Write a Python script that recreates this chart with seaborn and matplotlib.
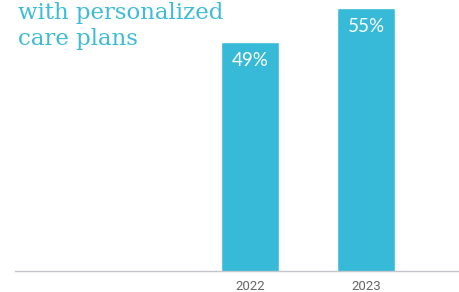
"""Bar chart: share of patients with personalized care plans, 2022 vs 2023."""

import matplotlib
matplotlib.use("Agg")
import matplotlib.pyplot as plt
import pandas as pd
import seaborn as sns

# ── Data ──────────────────────────────────────────────────────────────────
years = ["2022", "2023"]
shares = [49, 55]
bar_labels = ["49%", "55%"]
title_lines = ["with personalized", "care plans"]

BAR_COLOR = "#36BAD8"
TITLE_COLOR = "#3DBCD8"

sns.set_theme(style="white")
plt.rcParams["font.family"] = ["Roboto", "DejaVu Sans"]

df = pd.DataFrame({"year": years, "share": shares})

fig = plt.figure(figsize=(4.59, 2.92), dpi=100)
ax = fig.add_axes([15 / 459, 1 - 271 / 292, 444 / 459, 271 / 292])

sns.barplot(data=df, x="year", y="share", color=BAR_COLOR, width=0.5,
            saturation=1, ax=ax)

ax.set_xlim(-2.026, 1.80)
ax.set_ylim(8.6, 56.4)

for patch, label in zip(ax.patches, bar_labels):
    x = patch.get_x() + patch.get_width() / 2
    top = patch.get_y() + patch.get_height()
    ax.annotate(label, (x, top), xytext=(0, -13.5), textcoords="offset points",
                ha="center", va="center", color="white", fontsize=13.5,
                family=["Lato", "DejaVu Sans"], zorder=10)

ax.set_xlabel("")
ax.set_ylabel("")
ax.set_yticks([])
ax.tick_params(axis="x", length=0, pad=6.5, labelsize=9.5, labelcolor="#666666")
for side in ["top", "right", "left"]:
    ax.spines[side].set_visible(False)
ax.spines["bottom"].set_color("#C3C6CA")
ax.spines["bottom"].set_linewidth(1)

# title fragment (top-left)
fig.text(18 / 459, 1 - 19 / 292, title_lines[0], ha="left", va="baseline",
         color=TITLE_COLOR, fontsize=16.5, family=["DejaVu Serif"])
fig.text(18 / 459, 1 - 45 / 292, title_lines[1], ha="left", va="baseline",
         color=TITLE_COLOR, fontsize=16.5, family=["DejaVu Serif"])

fig.savefig("out.png", dpi=100)
plt.close(fig)
